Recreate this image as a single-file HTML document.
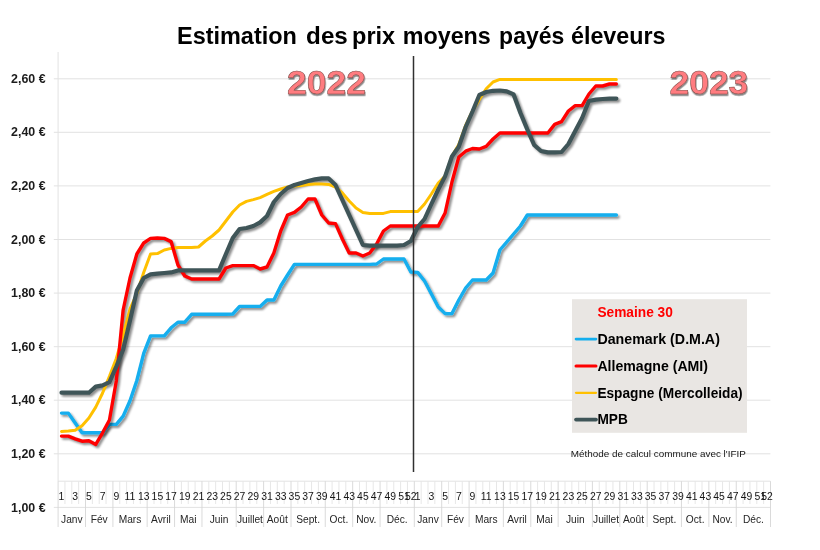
<!DOCTYPE html>
<html lang="fr"><head><meta charset="utf-8"><title>Estimation des prix moyens payés éleveurs</title>
<style>
html,body{margin:0;padding:0;background:#fff;}
body{width:820px;height:550px;overflow:hidden;}
svg{display:block;filter:blur(0.35px);}
text{font-family:"Liberation Sans",sans-serif;}
</style></head><body>
<svg width="820" height="550" viewBox="0 0 820 550">
<defs>
<filter id="sh" x="-5%" y="-5%" width="110%" height="115%"><feDropShadow dx="1.8" dy="2.0" stdDeviation="1.1" flood-color="#000" flood-opacity="0.45"/></filter>
<filter id="so" x="-5%" y="-5%" width="110%" height="115%"><feGaussianBlur in="SourceAlpha" stdDeviation="1.1"/><feOffset dx="1.8" dy="2.0"/><feComponentTransfer><feFuncA type="linear" slope="0.45"/></feComponentTransfer></filter>
<filter id="tsh" x="-10%" y="-10%" width="120%" height="130%"><feDropShadow dx="0.6" dy="1.7" stdDeviation="0.7" flood-color="#000" flood-opacity="0.5"/></filter>
</defs>
<rect width="820" height="550" fill="#fff"/>

<g stroke="#e2e2e2" stroke-width="1" fill="none">
<line x1="53.8" y1="78.8" x2="770.4" y2="78.8"/>
<line x1="53.8" y1="132.3" x2="770.4" y2="132.3"/>
<line x1="53.8" y1="185.9" x2="770.4" y2="185.9"/>
<line x1="53.8" y1="239.5" x2="770.4" y2="239.5"/>
<line x1="53.8" y1="293.1" x2="770.4" y2="293.1"/>
<line x1="53.8" y1="346.7" x2="770.4" y2="346.7"/>
<line x1="53.8" y1="400.2" x2="770.4" y2="400.2"/>
<line x1="53.8" y1="453.8" x2="770.4" y2="453.8"/>
<line x1="53.8" y1="507.4" x2="770.4" y2="507.4"/>
<line x1="58.1" y1="52" x2="58.1" y2="481.2"/>
<line x1="58.1" y1="481.2" x2="770.4" y2="481.2"/>
<line x1="64.95" y1="481.2" x2="64.95" y2="504" stroke="#e7e7e7"/>
<line x1="71.80" y1="481.2" x2="71.80" y2="504" stroke="#e7e7e7"/>
<line x1="78.65" y1="481.2" x2="78.65" y2="504" stroke="#e7e7e7"/>
<line x1="92.35" y1="481.2" x2="92.35" y2="504" stroke="#e7e7e7"/>
<line x1="99.20" y1="481.2" x2="99.20" y2="504" stroke="#e7e7e7"/>
<line x1="106.05" y1="481.2" x2="106.05" y2="504" stroke="#e7e7e7"/>
<line x1="119.75" y1="481.2" x2="119.75" y2="504" stroke="#e7e7e7"/>
<line x1="126.60" y1="481.2" x2="126.60" y2="504" stroke="#e7e7e7"/>
<line x1="133.45" y1="481.2" x2="133.45" y2="504" stroke="#e7e7e7"/>
<line x1="140.30" y1="481.2" x2="140.30" y2="504" stroke="#e7e7e7"/>
<line x1="154.00" y1="481.2" x2="154.00" y2="504" stroke="#e7e7e7"/>
<line x1="160.85" y1="481.2" x2="160.85" y2="504" stroke="#e7e7e7"/>
<line x1="167.70" y1="481.2" x2="167.70" y2="504" stroke="#e7e7e7"/>
<line x1="181.40" y1="481.2" x2="181.40" y2="504" stroke="#e7e7e7"/>
<line x1="188.25" y1="481.2" x2="188.25" y2="504" stroke="#e7e7e7"/>
<line x1="195.10" y1="481.2" x2="195.10" y2="504" stroke="#e7e7e7"/>
<line x1="208.80" y1="481.2" x2="208.80" y2="504" stroke="#e7e7e7"/>
<line x1="215.65" y1="481.2" x2="215.65" y2="504" stroke="#e7e7e7"/>
<line x1="222.50" y1="481.2" x2="222.50" y2="504" stroke="#e7e7e7"/>
<line x1="229.35" y1="481.2" x2="229.35" y2="504" stroke="#e7e7e7"/>
<line x1="243.05" y1="481.2" x2="243.05" y2="504" stroke="#e7e7e7"/>
<line x1="249.90" y1="481.2" x2="249.90" y2="504" stroke="#e7e7e7"/>
<line x1="256.75" y1="481.2" x2="256.75" y2="504" stroke="#e7e7e7"/>
<line x1="270.45" y1="481.2" x2="270.45" y2="504" stroke="#e7e7e7"/>
<line x1="277.30" y1="481.2" x2="277.30" y2="504" stroke="#e7e7e7"/>
<line x1="284.15" y1="481.2" x2="284.15" y2="504" stroke="#e7e7e7"/>
<line x1="297.85" y1="481.2" x2="297.85" y2="504" stroke="#e7e7e7"/>
<line x1="304.70" y1="481.2" x2="304.70" y2="504" stroke="#e7e7e7"/>
<line x1="311.55" y1="481.2" x2="311.55" y2="504" stroke="#e7e7e7"/>
<line x1="318.40" y1="481.2" x2="318.40" y2="504" stroke="#e7e7e7"/>
<line x1="332.10" y1="481.2" x2="332.10" y2="504" stroke="#e7e7e7"/>
<line x1="338.95" y1="481.2" x2="338.95" y2="504" stroke="#e7e7e7"/>
<line x1="345.80" y1="481.2" x2="345.80" y2="504" stroke="#e7e7e7"/>
<line x1="359.50" y1="481.2" x2="359.50" y2="504" stroke="#e7e7e7"/>
<line x1="366.35" y1="481.2" x2="366.35" y2="504" stroke="#e7e7e7"/>
<line x1="373.20" y1="481.2" x2="373.20" y2="504" stroke="#e7e7e7"/>
<line x1="386.90" y1="481.2" x2="386.90" y2="504" stroke="#e7e7e7"/>
<line x1="393.75" y1="481.2" x2="393.75" y2="504" stroke="#e7e7e7"/>
<line x1="400.60" y1="481.2" x2="400.60" y2="504" stroke="#e7e7e7"/>
<line x1="407.45" y1="481.2" x2="407.45" y2="504" stroke="#e7e7e7"/>
<line x1="421.15" y1="481.2" x2="421.15" y2="504" stroke="#e7e7e7"/>
<line x1="428.00" y1="481.2" x2="428.00" y2="504" stroke="#e7e7e7"/>
<line x1="434.85" y1="481.2" x2="434.85" y2="504" stroke="#e7e7e7"/>
<line x1="448.55" y1="481.2" x2="448.55" y2="504" stroke="#e7e7e7"/>
<line x1="455.40" y1="481.2" x2="455.40" y2="504" stroke="#e7e7e7"/>
<line x1="462.25" y1="481.2" x2="462.25" y2="504" stroke="#e7e7e7"/>
<line x1="475.95" y1="481.2" x2="475.95" y2="504" stroke="#e7e7e7"/>
<line x1="482.80" y1="481.2" x2="482.80" y2="504" stroke="#e7e7e7"/>
<line x1="489.65" y1="481.2" x2="489.65" y2="504" stroke="#e7e7e7"/>
<line x1="496.50" y1="481.2" x2="496.50" y2="504" stroke="#e7e7e7"/>
<line x1="510.20" y1="481.2" x2="510.20" y2="504" stroke="#e7e7e7"/>
<line x1="517.05" y1="481.2" x2="517.05" y2="504" stroke="#e7e7e7"/>
<line x1="523.90" y1="481.2" x2="523.90" y2="504" stroke="#e7e7e7"/>
<line x1="537.60" y1="481.2" x2="537.60" y2="504" stroke="#e7e7e7"/>
<line x1="544.45" y1="481.2" x2="544.45" y2="504" stroke="#e7e7e7"/>
<line x1="551.30" y1="481.2" x2="551.30" y2="504" stroke="#e7e7e7"/>
<line x1="565.00" y1="481.2" x2="565.00" y2="504" stroke="#e7e7e7"/>
<line x1="571.85" y1="481.2" x2="571.85" y2="504" stroke="#e7e7e7"/>
<line x1="578.70" y1="481.2" x2="578.70" y2="504" stroke="#e7e7e7"/>
<line x1="585.55" y1="481.2" x2="585.55" y2="504" stroke="#e7e7e7"/>
<line x1="599.25" y1="481.2" x2="599.25" y2="504" stroke="#e7e7e7"/>
<line x1="606.10" y1="481.2" x2="606.10" y2="504" stroke="#e7e7e7"/>
<line x1="612.95" y1="481.2" x2="612.95" y2="504" stroke="#e7e7e7"/>
<line x1="626.65" y1="481.2" x2="626.65" y2="504" stroke="#e7e7e7"/>
<line x1="633.50" y1="481.2" x2="633.50" y2="504" stroke="#e7e7e7"/>
<line x1="640.35" y1="481.2" x2="640.35" y2="504" stroke="#e7e7e7"/>
<line x1="654.05" y1="481.2" x2="654.05" y2="504" stroke="#e7e7e7"/>
<line x1="660.90" y1="481.2" x2="660.90" y2="504" stroke="#e7e7e7"/>
<line x1="667.75" y1="481.2" x2="667.75" y2="504" stroke="#e7e7e7"/>
<line x1="674.60" y1="481.2" x2="674.60" y2="504" stroke="#e7e7e7"/>
<line x1="688.30" y1="481.2" x2="688.30" y2="504" stroke="#e7e7e7"/>
<line x1="695.15" y1="481.2" x2="695.15" y2="504" stroke="#e7e7e7"/>
<line x1="702.00" y1="481.2" x2="702.00" y2="504" stroke="#e7e7e7"/>
<line x1="715.70" y1="481.2" x2="715.70" y2="504" stroke="#e7e7e7"/>
<line x1="722.55" y1="481.2" x2="722.55" y2="504" stroke="#e7e7e7"/>
<line x1="729.40" y1="481.2" x2="729.40" y2="504" stroke="#e7e7e7"/>
<line x1="743.10" y1="481.2" x2="743.10" y2="504" stroke="#e7e7e7"/>
<line x1="749.95" y1="481.2" x2="749.95" y2="504" stroke="#e7e7e7"/>
<line x1="756.80" y1="481.2" x2="756.80" y2="504" stroke="#e7e7e7"/>
<line x1="763.65" y1="481.2" x2="763.65" y2="504" stroke="#e7e7e7"/>
</g>
<g stroke="#d6d6d6" stroke-width="0.9">
<line x1="58.10" y1="481.2" x2="58.10" y2="527"/>
<line x1="85.50" y1="481.2" x2="85.50" y2="527"/>
<line x1="112.90" y1="481.2" x2="112.90" y2="527"/>
<line x1="147.15" y1="481.2" x2="147.15" y2="527"/>
<line x1="174.55" y1="481.2" x2="174.55" y2="527"/>
<line x1="201.95" y1="481.2" x2="201.95" y2="527"/>
<line x1="236.20" y1="481.2" x2="236.20" y2="527"/>
<line x1="263.60" y1="481.2" x2="263.60" y2="527"/>
<line x1="291.00" y1="481.2" x2="291.00" y2="527"/>
<line x1="325.25" y1="481.2" x2="325.25" y2="527"/>
<line x1="352.65" y1="481.2" x2="352.65" y2="527"/>
<line x1="380.05" y1="481.2" x2="380.05" y2="527"/>
<line x1="414.30" y1="481.2" x2="414.30" y2="527"/>
<line x1="441.70" y1="481.2" x2="441.70" y2="527"/>
<line x1="469.10" y1="481.2" x2="469.10" y2="527"/>
<line x1="503.35" y1="481.2" x2="503.35" y2="527"/>
<line x1="530.75" y1="481.2" x2="530.75" y2="527"/>
<line x1="558.15" y1="481.2" x2="558.15" y2="527"/>
<line x1="592.40" y1="481.2" x2="592.40" y2="527"/>
<line x1="619.80" y1="481.2" x2="619.80" y2="527"/>
<line x1="647.20" y1="481.2" x2="647.20" y2="527"/>
<line x1="681.45" y1="481.2" x2="681.45" y2="527"/>
<line x1="708.85" y1="481.2" x2="708.85" y2="527"/>
<line x1="736.25" y1="481.2" x2="736.25" y2="527"/>
<line x1="770.50" y1="481.2" x2="770.50" y2="527"/>
</g>
<g font-size="12.3" font-weight="bold" fill="#1c1c1c" text-anchor="end">
<text x="45.6" y="82.9" textLength="34.5" lengthAdjust="spacingAndGlyphs">2,60 €</text>
<text x="45.6" y="136.4" textLength="34.5" lengthAdjust="spacingAndGlyphs">2,40 €</text>
<text x="45.6" y="190.0" textLength="34.5" lengthAdjust="spacingAndGlyphs">2,20 €</text>
<text x="45.6" y="243.6" textLength="34.5" lengthAdjust="spacingAndGlyphs">2,00 €</text>
<text x="45.6" y="297.2" textLength="34.5" lengthAdjust="spacingAndGlyphs">1,80 €</text>
<text x="45.6" y="350.8" textLength="34.5" lengthAdjust="spacingAndGlyphs">1,60 €</text>
<text x="45.6" y="404.3" textLength="34.5" lengthAdjust="spacingAndGlyphs">1,40 €</text>
<text x="45.6" y="457.9" textLength="34.5" lengthAdjust="spacingAndGlyphs">1,20 €</text>
<text x="45.6" y="511.5" textLength="34.5" lengthAdjust="spacingAndGlyphs">1,00 €</text>
</g>
<g font-size="10.4" fill="#161616" text-anchor="middle">
<text x="61.50" y="499.6">1</text>
<text x="75.20" y="499.6">3</text>
<text x="88.90" y="499.6">5</text>
<text x="102.60" y="499.6">7</text>
<text x="116.30" y="499.6">9</text>
<text x="130.00" y="499.6">11</text>
<text x="143.70" y="499.6">13</text>
<text x="157.40" y="499.6">15</text>
<text x="171.10" y="499.6">17</text>
<text x="184.80" y="499.6">19</text>
<text x="198.50" y="499.6">21</text>
<text x="212.20" y="499.6">23</text>
<text x="225.90" y="499.6">25</text>
<text x="239.60" y="499.6">27</text>
<text x="253.30" y="499.6">29</text>
<text x="267.00" y="499.6">31</text>
<text x="280.70" y="499.6">33</text>
<text x="294.40" y="499.6">35</text>
<text x="308.10" y="499.6">37</text>
<text x="321.80" y="499.6">39</text>
<text x="335.50" y="499.6">41</text>
<text x="349.20" y="499.6">43</text>
<text x="362.90" y="499.6">45</text>
<text x="376.60" y="499.6">47</text>
<text x="390.30" y="499.6">49</text>
<text x="404.00" y="499.6">51</text>
<text x="410.85" y="499.6">52</text>
<text x="417.70" y="499.6">1</text>
<text x="431.40" y="499.6">3</text>
<text x="445.10" y="499.6">5</text>
<text x="458.80" y="499.6">7</text>
<text x="472.50" y="499.6">9</text>
<text x="486.20" y="499.6">11</text>
<text x="499.90" y="499.6">13</text>
<text x="513.60" y="499.6">15</text>
<text x="527.30" y="499.6">17</text>
<text x="541.00" y="499.6">19</text>
<text x="554.70" y="499.6">21</text>
<text x="568.40" y="499.6">23</text>
<text x="582.10" y="499.6">25</text>
<text x="595.80" y="499.6">27</text>
<text x="609.50" y="499.6">29</text>
<text x="623.20" y="499.6">31</text>
<text x="636.90" y="499.6">33</text>
<text x="650.60" y="499.6">35</text>
<text x="664.30" y="499.6">37</text>
<text x="678.00" y="499.6">39</text>
<text x="691.70" y="499.6">41</text>
<text x="705.40" y="499.6">43</text>
<text x="719.10" y="499.6">45</text>
<text x="732.80" y="499.6">47</text>
<text x="746.50" y="499.6">49</text>
<text x="760.20" y="499.6">51</text>
<text x="767.05" y="499.6">52</text>
</g>
<g font-size="10.2" fill="#262626" text-anchor="middle">
<text x="71.80" y="523">Janv</text>
<text x="99.20" y="523">Fév</text>
<text x="130.03" y="523">Mars</text>
<text x="160.85" y="523">Avril</text>
<text x="188.25" y="523">Mai</text>
<text x="219.07" y="523">Juin</text>
<text x="249.90" y="523">Juillet</text>
<text x="277.30" y="523">Août</text>
<text x="308.12" y="523">Sept.</text>
<text x="338.95" y="523">Oct.</text>
<text x="366.35" y="523">Nov.</text>
<text x="397.18" y="523">Déc.</text>
<text x="428.00" y="523">Janv</text>
<text x="455.40" y="523">Fév</text>
<text x="486.23" y="523">Mars</text>
<text x="517.05" y="523">Avril</text>
<text x="544.45" y="523">Mai</text>
<text x="575.27" y="523">Juin</text>
<text x="606.10" y="523">Juillet</text>
<text x="633.50" y="523">Août</text>
<text x="664.33" y="523">Sept.</text>
<text x="695.15" y="523">Oct.</text>
<text x="722.55" y="523">Nov.</text>
<text x="753.38" y="523">Déc.</text>
</g>
<path d="M61.50,413.10 L68.35,413.10 L75.20,423.00 L82.05,432.70 L88.90,432.70 L95.75,432.70 L102.60,432.70 L109.45,424.40 L116.30,424.40 L123.15,416.10 L130.00,400.70 L136.85,380.50 L143.70,353.40 L150.55,335.90 L157.40,335.90 L164.25,335.90 L171.10,327.80 L177.95,322.20 L184.80,322.20 L191.65,314.30 L198.50,314.30 L205.35,314.30 L212.20,314.30 L219.05,314.30 L225.90,314.30 L232.75,314.00 L239.60,306.40 L246.45,306.40 L253.30,306.40 L260.15,306.40 L267.00,300.00 L273.85,300.00 L280.70,286.00 L287.55,275.00 L294.40,264.40 L301.25,264.40 L308.10,264.40 L314.95,264.40 L321.80,264.40 L328.65,264.40 L335.50,264.40 L342.35,264.40 L349.20,264.40 L356.05,264.40 L362.90,264.40 L369.75,264.40 L376.60,264.00 L383.45,259.00 L390.30,259.00 L397.15,259.00 L404.00,259.00 L410.85,272.00 L417.70,272.40 L424.55,281.00 L431.40,294.00 L438.25,307.00 L445.10,313.60 L451.95,313.60 L458.80,300.00 L465.65,288.00 L472.50,280.00 L479.35,280.00 L486.20,280.00 L493.05,273.00 L499.90,250.00 L506.75,242.00 L513.60,234.00 L520.45,226.00 L527.30,215.00 L534.15,215.00 L541.00,215.00 L547.85,215.00 L554.70,215.00 L561.55,215.00 L568.40,215.00 L575.25,215.00 L582.10,215.00 L588.95,215.00 L595.80,215.00 L602.65,215.00 L609.50,215.00 L616.35,215.00" fill="none" stroke-linejoin="round" stroke-linecap="round" stroke="#14aeee" stroke-width="3.4" filter="url(#sh)"/>
<path d="M61.50,436.10 L68.35,436.10 L75.20,438.80 L82.05,441.20 L88.90,440.80 L95.75,444.40 L102.60,432.80 L109.45,420.00 L116.30,381.00 L123.15,310.00 L130.00,278.00 L136.85,254.00 L143.70,243.00 L150.55,238.40 L157.40,238.00 L164.25,238.40 L171.10,241.60 L177.95,265.00 L184.80,276.00 L191.65,279.00 L198.50,279.00 L205.35,279.00 L212.20,279.00 L219.05,279.00 L225.90,268.00 L232.75,265.60 L239.60,265.60 L246.45,265.60 L253.30,265.60 L260.15,269.00 L267.00,267.00 L273.85,253.00 L280.70,231.00 L287.55,215.00 L294.40,212.40 L301.25,207.00 L308.10,199.00 L314.95,199.00 L321.80,215.00 L328.65,223.00 L335.50,223.60 L342.35,239.00 L349.20,253.00 L356.05,253.00 L362.90,256.00 L369.75,253.00 L376.60,244.00 L383.45,231.00 L390.30,226.00 L397.15,226.00 L404.00,226.00 L410.85,226.00 L417.70,226.00 L424.55,226.00 L431.40,226.00 L438.25,226.00 L445.10,213.00 L451.95,182.00 L458.80,157.00 L465.65,151.20 L472.50,148.50 L479.35,149.00 L486.20,146.40 L493.05,139.00 L499.90,133.00 L506.75,133.00 L513.60,133.00 L520.45,133.00 L527.30,133.00 L534.15,133.00 L541.00,133.00 L547.85,133.00 L554.70,124.40 L561.55,121.60 L568.40,111.00 L575.25,105.60 L582.10,105.60 L588.95,94.00 L595.80,86.00 L602.65,86.00 L609.50,84.00 L616.35,84.00" fill="none" stroke-linejoin="round" stroke-linecap="round" stroke="#000" stroke-width="3.4" filter="url(#so)"/>
<path d="M61.50,392.70 L68.35,392.70 L75.20,392.70 L82.05,392.70 L88.90,392.70 L95.75,386.60 L102.60,385.40 L109.45,382.20 L116.30,366.60 L123.15,349.80 L130.00,320.50 L136.85,290.50 L143.70,278.00 L150.55,274.40 L157.40,273.60 L164.25,273.00 L171.10,272.40 L177.95,270.40 L184.80,270.40 L191.65,270.40 L198.50,270.40 L205.35,270.40 L212.20,270.40 L219.05,270.40 L225.90,254.00 L232.75,238.00 L239.60,229.00 L246.45,228.00 L253.30,226.00 L260.15,222.40 L267.00,216.00 L273.85,202.00 L280.70,194.00 L287.55,188.00 L294.40,185.00 L301.25,183.00 L308.10,181.00 L314.95,179.40 L321.80,178.40 L328.65,178.40 L335.50,185.00 L342.35,200.00 L349.20,215.00 L356.05,230.00 L362.90,245.00 L369.75,245.60 L376.60,245.60 L383.45,245.60 L390.30,245.60 L397.15,245.60 L404.00,245.00 L410.85,241.00 L417.70,227.00 L424.55,219.00 L431.40,204.00 L438.25,189.50 L445.10,176.40 L451.95,156.50 L458.80,146.70 L465.65,127.00 L472.50,111.50 L479.35,95.00 L486.20,92.00 L493.05,90.80 L499.90,90.50 L506.75,91.40 L513.60,94.40 L520.45,113.00 L527.30,129.50 L534.15,145.00 L541.00,151.00 L547.85,152.40 L554.70,152.40 L561.55,152.00 L568.40,144.00 L575.25,131.00 L582.10,118.00 L588.95,101.00 L595.80,99.60 L602.65,99.00 L609.50,98.60 L616.35,98.60" fill="none" stroke-linejoin="round" stroke-linecap="round" stroke="#000" stroke-width="4.2" filter="url(#so)"/>
<path d="M61.50,431.50 L68.35,431.00 L75.20,430.20 L82.05,425.70 L88.90,418.00 L95.75,407.10 L102.60,393.00 L109.45,376.40 L116.30,358.50 L123.15,335.10 L130.00,308.80 L136.85,293.50 L143.70,272.50 L150.55,254.00 L157.40,253.60 L164.25,250.00 L171.10,248.40 L177.95,247.60 L184.80,247.60 L191.65,247.60 L198.50,247.00 L205.35,241.00 L212.20,236.00 L219.05,230.00 L225.90,221.00 L232.75,212.00 L239.60,205.00 L246.45,201.40 L253.30,199.60 L260.15,197.60 L267.00,194.40 L273.85,191.40 L280.70,189.00 L287.55,187.00 L294.40,186.00 L301.25,185.40 L308.10,184.40 L314.95,184.00 L321.80,184.00 L328.65,184.40 L335.50,187.00 L342.35,193.00 L349.20,201.00 L356.05,208.00 L362.90,212.40 L369.75,213.60 L376.60,213.60 L383.45,213.40 L390.30,211.60 L397.15,211.40 L404.00,211.40 L410.85,211.40 L417.70,211.50 L424.55,204.00 L431.40,194.00 L438.25,183.00 L445.10,176.00 L451.95,156.30 L458.80,144.50 L465.65,125.50 L472.50,111.00 L479.35,99.50 L486.20,88.80 L493.05,82.00 L499.90,79.40 L506.75,79.40 L513.60,79.40 L520.45,79.40 L527.30,79.40 L534.15,79.40 L541.00,79.40 L547.85,79.40 L554.70,79.40 L561.55,79.40 L568.40,79.40 L575.25,79.40 L582.10,79.40 L588.95,79.40 L595.80,79.40 L602.65,79.40 L609.50,79.40 L616.35,79.40" fill="none" stroke-linejoin="round" stroke-linecap="round" stroke="#ffc000" stroke-width="3.0"/>
<path d="M61.50,436.10 L68.35,436.10 L75.20,438.80 L82.05,441.20 L88.90,440.80 L95.75,444.40 L102.60,432.80 L109.45,420.00 L116.30,381.00 L123.15,310.00 L130.00,278.00 L136.85,254.00 L143.70,243.00 L150.55,238.40 L157.40,238.00 L164.25,238.40 L171.10,241.60 L177.95,265.00 L184.80,276.00 L191.65,279.00 L198.50,279.00 L205.35,279.00 L212.20,279.00 L219.05,279.00 L225.90,268.00 L232.75,265.60 L239.60,265.60 L246.45,265.60 L253.30,265.60 L260.15,269.00 L267.00,267.00 L273.85,253.00 L280.70,231.00 L287.55,215.00 L294.40,212.40 L301.25,207.00 L308.10,199.00 L314.95,199.00 L321.80,215.00 L328.65,223.00 L335.50,223.60 L342.35,239.00 L349.20,253.00 L356.05,253.00 L362.90,256.00 L369.75,253.00 L376.60,244.00 L383.45,231.00 L390.30,226.00 L397.15,226.00 L404.00,226.00 L410.85,226.00 L417.70,226.00 L424.55,226.00 L431.40,226.00 L438.25,226.00 L445.10,213.00 L451.95,182.00 L458.80,157.00 L465.65,151.20 L472.50,148.50 L479.35,149.00 L486.20,146.40 L493.05,139.00 L499.90,133.00 L506.75,133.00 L513.60,133.00 L520.45,133.00 L527.30,133.00 L534.15,133.00 L541.00,133.00 L547.85,133.00 L554.70,124.40 L561.55,121.60 L568.40,111.00 L575.25,105.60 L582.10,105.60 L588.95,94.00 L595.80,86.00 L602.65,86.00 L609.50,84.00 L616.35,84.00" fill="none" stroke-linejoin="round" stroke-linecap="round" stroke="#ff0000" stroke-width="3.4"/>
<path d="M61.50,392.70 L68.35,392.70 L75.20,392.70 L82.05,392.70 L88.90,392.70 L95.75,386.60 L102.60,385.40 L109.45,382.20 L116.30,366.60 L123.15,349.80 L130.00,320.50 L136.85,290.50 L143.70,278.00 L150.55,274.40 L157.40,273.60 L164.25,273.00 L171.10,272.40 L177.95,270.40 L184.80,270.40 L191.65,270.40 L198.50,270.40 L205.35,270.40 L212.20,270.40 L219.05,270.40 L225.90,254.00 L232.75,238.00 L239.60,229.00 L246.45,228.00 L253.30,226.00 L260.15,222.40 L267.00,216.00 L273.85,202.00 L280.70,194.00 L287.55,188.00 L294.40,185.00 L301.25,183.00 L308.10,181.00 L314.95,179.40 L321.80,178.40 L328.65,178.40 L335.50,185.00 L342.35,200.00 L349.20,215.00 L356.05,230.00 L362.90,245.00 L369.75,245.60 L376.60,245.60 L383.45,245.60 L390.30,245.60 L397.15,245.60 L404.00,245.00 L410.85,241.00 L417.70,227.00 L424.55,219.00 L431.40,204.00 L438.25,189.50 L445.10,176.40 L451.95,156.50 L458.80,146.70 L465.65,127.00 L472.50,111.50 L479.35,95.00 L486.20,92.00 L493.05,90.80 L499.90,90.50 L506.75,91.40 L513.60,94.40 L520.45,113.00 L527.30,129.50 L534.15,145.00 L541.00,151.00 L547.85,152.40 L554.70,152.40 L561.55,152.00 L568.40,144.00 L575.25,131.00 L582.10,118.00 L588.95,101.00 L595.80,99.60 L602.65,99.00 L609.50,98.60 L616.35,98.60" fill="none" stroke-linejoin="round" stroke-linecap="round" stroke="#3f5558" stroke-width="4.2"/>
<line x1="413.5" y1="56" x2="413.5" y2="472" stroke="#303030" stroke-width="1.5"/>
<g font-size="23.6" font-weight="bold" fill="#000" lengthAdjust="spacingAndGlyphs">
<text x="177.0" y="44.3" textLength="119.9" lengthAdjust="spacingAndGlyphs">Estimation</text>
<text x="306.1" y="44.3" textLength="41.7" lengthAdjust="spacingAndGlyphs">des</text>
<text x="352.1" y="44.3" textLength="43.1" lengthAdjust="spacingAndGlyphs">prix</text>
<text x="402.8" y="44.3" textLength="88.0" lengthAdjust="spacingAndGlyphs">moyens</text>
<text x="499.1" y="44.3" textLength="65.2" lengthAdjust="spacingAndGlyphs">payés</text>
<text x="571.0" y="44.3" textLength="94.5" lengthAdjust="spacingAndGlyphs">éleveurs</text>
</g>
<text x="287.1" y="94.2" font-size="33.4" font-weight="bold" fill="#ff7c80" stroke="#7f4a45" stroke-width="0.5" textLength="78.8" lengthAdjust="spacingAndGlyphs" filter="url(#tsh)">2022</text>
<text x="669.5" y="94.2" font-size="33.4" font-weight="bold" fill="#ff7c80" stroke="#7f4a45" stroke-width="0.5" textLength="78.8" lengthAdjust="spacingAndGlyphs" filter="url(#tsh)">2023</text>
<rect x="572" y="299.2" width="175" height="133.6" fill="#e9e6e3"/>
<text x="597.4" y="317.2" font-size="14.6" font-weight="bold" fill="#ff0000" textLength="75.5" lengthAdjust="spacingAndGlyphs">Semaine 30</text>
<line x1="576" y1="339.1" x2="596" y2="339.1" stroke="#14aeee" stroke-width="2.6" stroke-linecap="round"/>
<text x="597.4" y="343.9" font-size="14.4" font-weight="bold" fill="#000" textLength="122.5" lengthAdjust="spacingAndGlyphs">Danemark (D.M.A)</text>
<line x1="576" y1="365.9" x2="596" y2="365.9" stroke="#ff0000" stroke-width="3.0" stroke-linecap="round"/>
<text x="597.4" y="370.7" font-size="14.4" font-weight="bold" fill="#000" textLength="110.6" lengthAdjust="spacingAndGlyphs">Allemagne (AMI)</text>
<line x1="576" y1="392.8" x2="596" y2="392.8" stroke="#ffc000" stroke-width="2.3" stroke-linecap="round"/>
<text x="597.4" y="397.6" font-size="14.4" font-weight="bold" fill="#000" textLength="145.2" lengthAdjust="spacingAndGlyphs">Espagne (Mercolleida)</text>
<line x1="576" y1="419.6" x2="596" y2="419.6" stroke="#3f5558" stroke-width="3.7" stroke-linecap="round"/>
<text x="597.4" y="424.4" font-size="14.4" font-weight="bold" fill="#000" textLength="30.4" lengthAdjust="spacingAndGlyphs">MPB</text>
<text x="570.8" y="457.1" font-size="9.2" fill="#141414" textLength="175" lengthAdjust="spacingAndGlyphs">Méthode de calcul commune avec l'IFIP</text>
</svg></body></html>
